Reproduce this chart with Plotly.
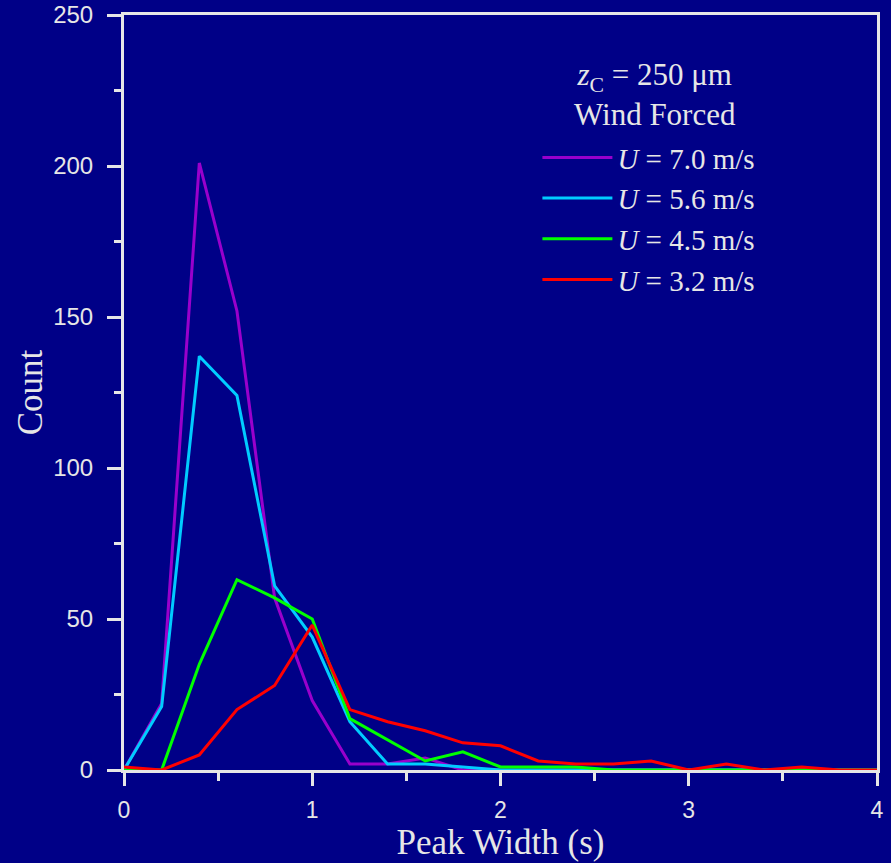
import plotly.graph_objects as go

peak_width = [0.0, 0.2, 0.4, 0.6, 0.8, 1.0, 1.2, 1.4, 1.6, 1.8, 2.0, 2.2, 2.4, 2.6, 2.8, 3.0, 3.2, 3.4, 3.6, 3.8, 4.0]
count_u70 = [0, 22, 201, 152, 57, 23, 2, 2, 4, 0, 0, 0, 0, 0, 0, 0, 0, 0, 0, 0, 0]
count_u56 = [0, 21, 137, 124, 61, 44, 16, 2, 2, 1, 0, 0, 0, 0, 0, 0, 0, 0, 0, 0, 0]
count_u45 = [0, 0, 35, 63, 57, 50, 17, 10, 3, 6, 1, 1, 1, 0, 0, 0, 0, 0, 0, 0, 0]
count_u32 = [1, 0, 5, 20, 28, 48, 20, 16, 13, 9, 8, 3, 2, 2, 3, 0, 2, 0, 1, 0, 0]

series_names = ["<i>U</i> = 7.0 m/s", "<i>U</i> = 5.6 m/s", "<i>U</i> = 4.5 m/s", "<i>U</i> = 3.2 m/s"]
series_values = [count_u70, count_u56, count_u45, count_u32]
series_colors = ["#9900CC", "#00CCFF", "#00FF00", "#FF0000"]
legend_heading = "<i>z</i><sub>C</sub> = 250 μm<br>Wind Forced"

AX = "#E6E6E6"
BG = "#000087"

fig = go.Figure()
for name, ys, col in zip(series_names, series_values, series_colors):
    fig.add_trace(go.Scatter(x=peak_width, y=ys, mode="lines", name=name,
                             line=dict(color=col, width=3)))

fig.add_annotation(
    text=legend_heading, xref="paper", yref="paper", x=0.705, y=0.895,
    xanchor="center", yanchor="middle", showarrow=False, align="center",
    font=dict(family="Liberation Serif", size=31, color=AX),
)

fig.update_layout(
    width=891, height=863,
    margin=dict(l=124, r=14, t=15, b=93, autoexpand=False),
    paper_bgcolor=BG, plot_bgcolor=BG,
    font=dict(family="Liberation Serif", color=AX),
    showlegend=True,
    legend=dict(
        x=0.549, y=0.845, xanchor="left", yanchor="top",
        bgcolor="rgba(0,0,0,0)",
        font=dict(family="Liberation Serif", size=29, color=AX),
        itemwidth=70,
        tracegroupgap=0,
    ),
    xaxis=dict(
        range=[0, 4], dtick=1, tick0=0, automargin=False,
        showgrid=False, zeroline=False,
        showline=True, linecolor=AX, linewidth=3, mirror=True,
        ticks="outside", ticklen=13, tickwidth=3, tickcolor=AX,
        minor=dict(dtick=0.5, ticks="outside", ticklen=8, tickwidth=3, tickcolor=AX),
        tickfont=dict(family="Liberation Sans", size=23, color=AX),
        ticklabelstandoff=4,
        title=dict(text="Peak Width (s)", standoff=6,
                   font=dict(family="Liberation Serif", size=35, color=AX)),
    ),
    yaxis=dict(
        range=[0, 250], dtick=50, tick0=0, automargin=False,
        showgrid=False, zeroline=False,
        showline=True, linecolor=AX, linewidth=3, mirror=True,
        ticks="outside", ticklen=14, tickwidth=3, tickcolor=AX,
        minor=dict(dtick=25, ticks="outside", ticklen=7, tickwidth=3, tickcolor=AX),
        tickfont=dict(family="Liberation Sans", size=24, color=AX),
        ticklabelstandoff=9,
        title=dict(text="Count", standoff=0,
                   font=dict(family="Liberation Serif", size=35, color=AX)),
    ),
    yaxis2=dict(
        range=[0, 250], dtick=50, tick0=0, overlaying="y", side="right", anchor="x",
        automargin=False,
        showgrid=False, zeroline=False, showline=False, showticklabels=False,
        ticks="inside", ticklen=14, tickwidth=3, tickcolor=AX,
        minor=dict(dtick=25, ticks="inside", ticklen=7, tickwidth=3, tickcolor=AX),
    ),
)

fig.write_html("out.html", config={"displayModeBar": False},
               post_script="document.body.style.margin='0';")
